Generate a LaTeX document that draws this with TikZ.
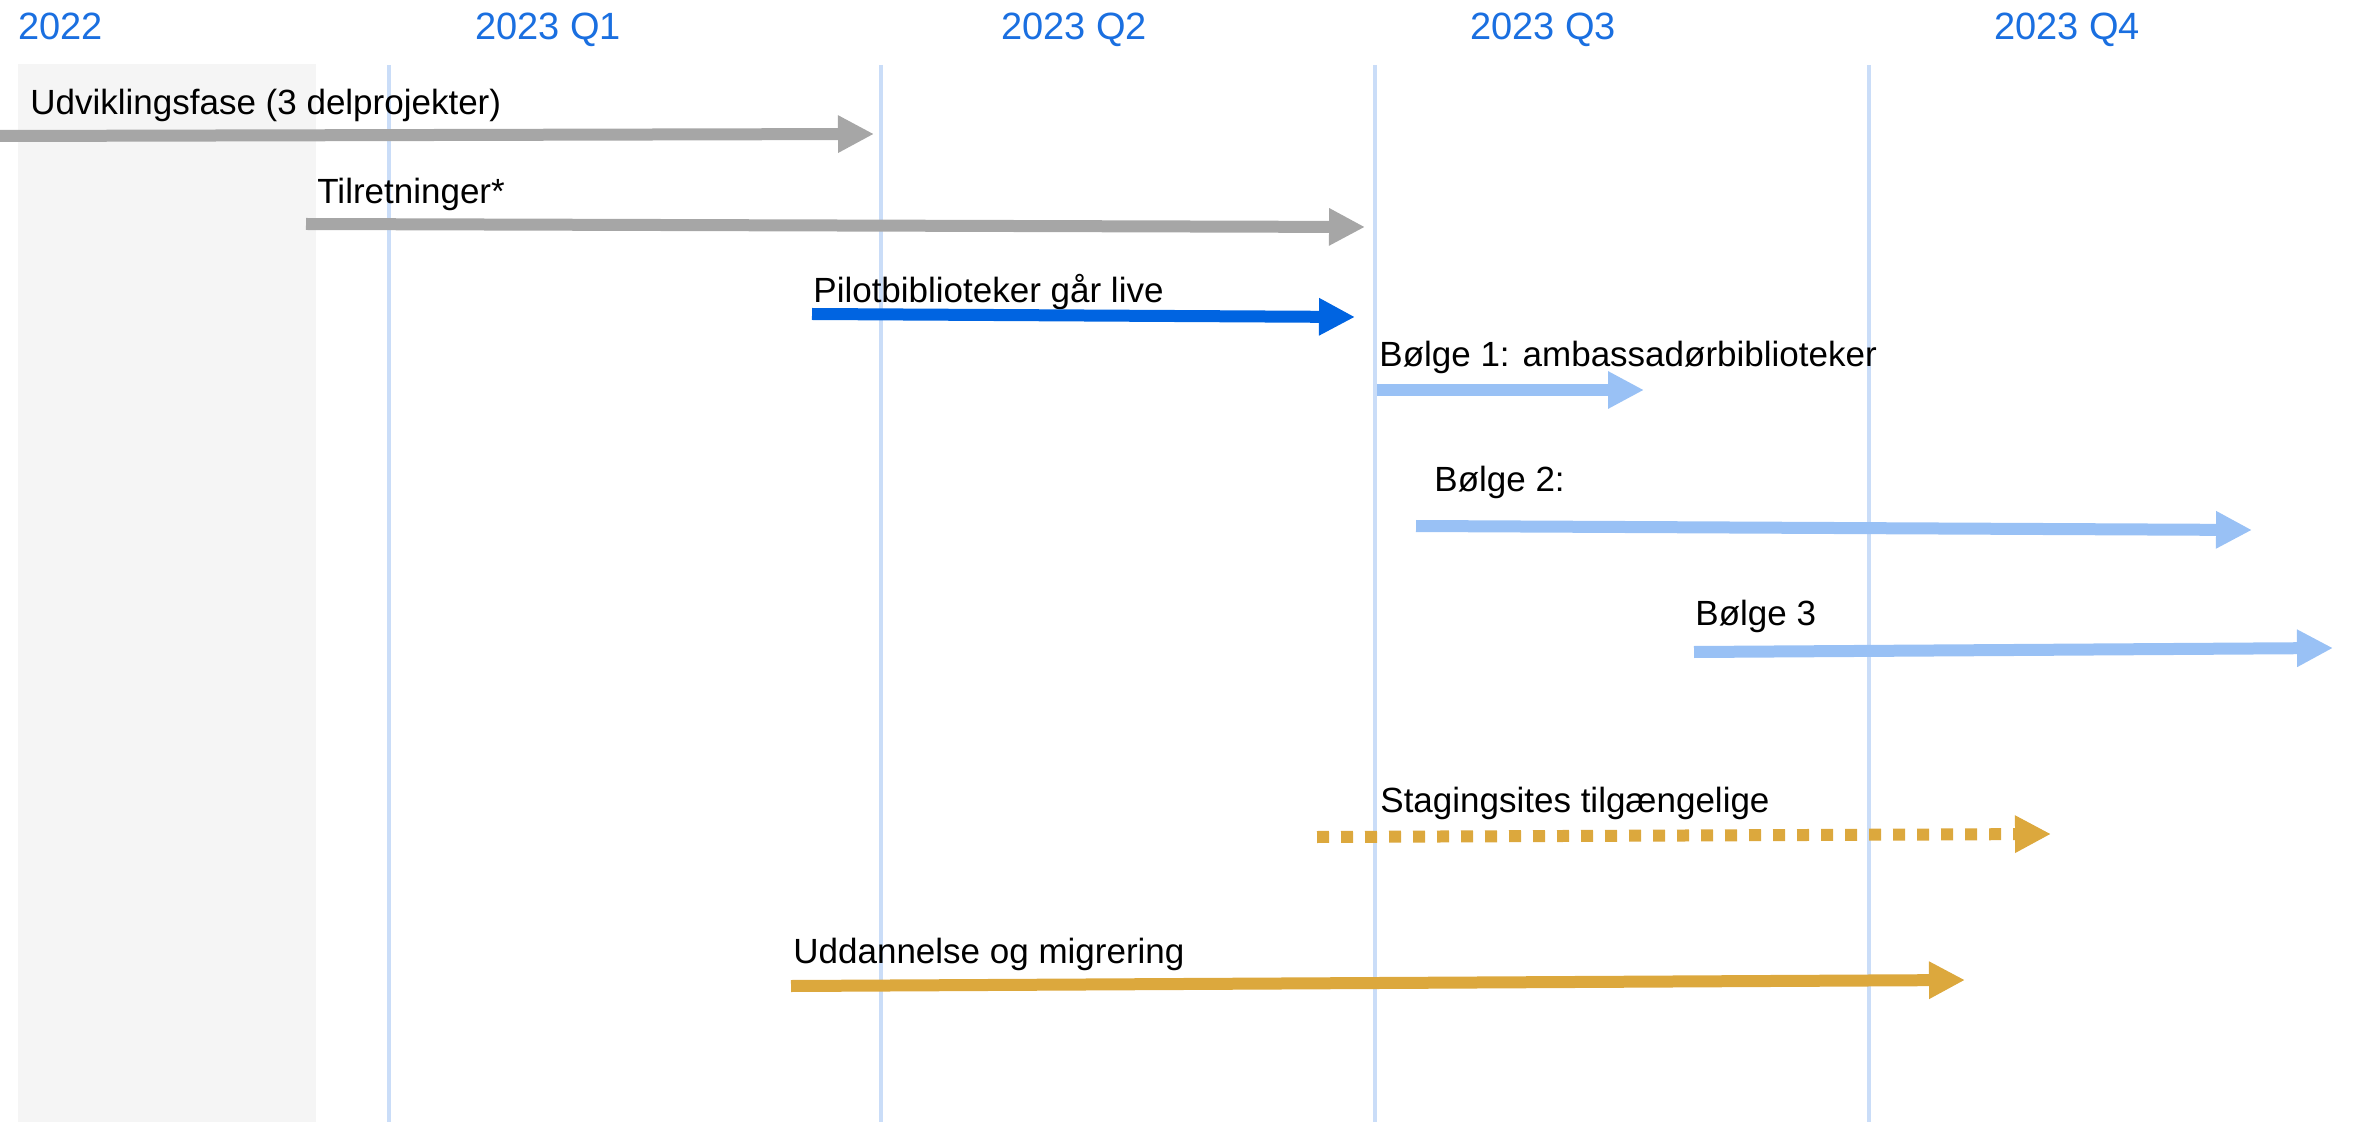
\documentclass[tikz,border=0pt]{standalone}
\usepackage{fontspec}
\setmainfont{Liberation Sans}
\usetikzlibrary{arrows.meta}

\definecolor{yearblue}{HTML}{1A6FE0}
\definecolor{gridblue}{HTML}{CADDF8}
\definecolor{boxgray}{HTML}{F5F5F5}
\definecolor{bargray}{HTML}{A6A6A6}
\definecolor{pilotblue}{HTML}{0064E1}
\definecolor{waveblue}{HTML}{99C1F5}
\definecolor{gold}{HTML}{DCA83D}

\begin{document}
\begin{tikzpicture}[
  x=0.5pt,y=-0.5pt,
  font=\fontsize{17.5}{20}\selectfont,
  year/.style={text=yearblue,font=\fontsize{19}{22}\selectfont,anchor=base,inner sep=0pt},
  quarter/.style={draw=gridblue,line width=2.2pt},
  task/.style={anchor=base west,inner sep=0pt},
  bar/.style={-{Triangle[length=18pt,width=17.5pt]},line width=6pt},
  dev/.style={bar,draw=bargray},
  pilot/.style={bar,draw=pilotblue},
  wave/.style={bar,draw=waveblue},
  train/.style={bar,draw=gold},
  staging/.style={train,dash pattern=on 6pt off 6pt}]

  \useasboundingbox (0,0) rectangle (2354,1122);

  % 2022 column and quarter lines
  \fill[boxgray] (18,64) rectangle (316,1122);
  \foreach \qx in {389,881,1375,1869}
    \draw[quarter] (\qx,65) -- (\qx,1122);

  % Year / quarter headings
  \node[year,anchor=base west] (y22) at (18,40) {2022};
  \node[year] (q1) at (548,40) {2023 Q1};
  \node[year] (q2) at (1074,40) {2023 Q2};
  \node[year] (q3) at (1543,40) {2023 Q3};
  \node[year] (q4) at (2067,40) {2023 Q4};

  % Bar end points
  \coordinate (udv-s) at (0,136);     \coordinate (udv-e) at (874,134);
  \coordinate (til-s) at (306,224);   \coordinate (til-e) at (1365,227);
  \coordinate (pil-s) at (812,314);   \coordinate (pil-e) at (1355,317);
  \coordinate (b1-s) at (1377,390);   \coordinate (b1-e) at (1644,390);
  \coordinate (b2-s) at (1416,526);   \coordinate (b2-e) at (2252,530);
  \coordinate (b3-s) at (1694,652);   \coordinate (b3-e) at (2333,648);
  \coordinate (stg-s) at (1317,837);  \coordinate (stg-e) at (2051,834);
  \coordinate (udd-s) at (791,986);   \coordinate (udd-e) at (1965,980);

  % Task labels
  \node[task] (udv) at (30,115) {Udviklingsfase (3 delprojekter)};
  \node[task] (til) at (317,204) {Tilretninger*};
  \node[task] (pil) at (813,303) {Pilotbiblioteker går live};
  \node[task] (b1) at (1379,367) {Bølge 1: ambassadørbiblioteker};
  \node[task] (b2) at (1434,492) {Bølge 2:};
  \node[task] (b3) at (1695,625) {Bølge 3};
  \node[task] (stg) at (1380,812) {Stagingsites tilgængelige};
  \node[task] (udd) at (793,963) {Uddannelse og migrering};

  % Bars
  \draw[dev] (udv-s) -- (udv-e);
  \draw[dev] (til-s) -- (til-e);
  \draw[pilot] (pil-s) -- (pil-e);
  \draw[wave] (b1-s) -- (b1-e);
  \draw[wave] (b2-s) -- (b2-e);
  \draw[wave] (b3-s) -- (b3-e);
  \draw[staging] (stg-s) -- (stg-e);
  \draw[train] (udd-s) -- (udd-e);

\end{tikzpicture}
\end{document}
